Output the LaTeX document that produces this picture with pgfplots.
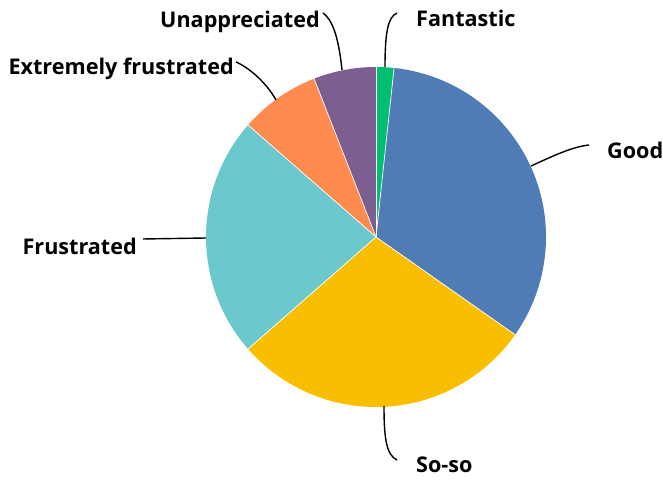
\documentclass[border=0pt]{standalone}
\usepackage{fontspec}
\setmainfont{Open Sans}
\usepackage{pgfplots}
\usepackage{pgfplotstable}
\pgfplotsset{compat=1.18}
\definecolor{c0}{HTML}{00BF6F}
\definecolor{c1}{HTML}{507CB6}
\definecolor{c2}{HTML}{F9BE00}
\definecolor{c3}{HTML}{6BC8CD}
\definecolor{c4}{HTML}{FF8B4F}
\definecolor{c5}{HTML}{7D5E91}
\pgfplotstableread{
label value
Fantastic 2
Good 39
So-so 34
Frustrated 27
{Extremely frustrated} 9
Unappreciated 7
}\datatable
\def\total{118}
\def\cum{0}
\pgfplotstableforeachcolumnelement{value}\of\datatable\as\val{%
  \pgfmathsetmacro\sa{90-\cum/\total*360}%
  \pgfmathsetmacro\newcum{\cum+\val}%
  \pgfmathsetmacro\ea{90-\newcum/\total*360}%
  \expandafter\xdef\csname sa\pgfplotstablerow\endcsname{\sa}%
  \expandafter\xdef\csname ea\pgfplotstablerow\endcsname{\ea}%
  \xdef\cum{\newcum}%
}
\begin{document}
\begin{tikzpicture}
\begin{axis}[
  x=1pt, y=1pt,
  xmin=-376, xmax=287, ymin=-244, ymax=237,
  hide axis, clip=false,
]
\pgfplotsinvokeforeach{0,...,5}{
  \fill[c#1] (axis cs:0,0) -- (axis cs:{170*cos(\csname sa#1\endcsname)},{170*sin(\csname sa#1\endcsname)})
     arc[start angle=\csname sa#1\endcsname, end angle=\csname ea#1\endcsname, radius=170pt] -- cycle;
}
\pgfplotsinvokeforeach{0,...,5}{
  \draw[white, line width=0.7pt] (axis cs:0,0) -- (axis cs:{170*cos(\csname sa#1\endcsname)},{170*sin(\csname sa#1\endcsname)});
}
\begin{scope}[black, line width=1.4pt]
\draw (axis cs:9,170) .. controls (axis cs:9,205) and (axis cs:12,220) .. (axis cs:21,224);
\draw (axis cs:-53,224) .. controls (axis cs:-45,218) and (axis cs:-38,205) .. (axis cs:-34,167);
\draw (axis cs:-140,175) .. controls (axis cs:-128,170) and (axis cs:-110,155) .. (axis cs:-100,137);
\draw (axis cs:-233,-2) -- (axis cs:-170,-1);
\draw (axis cs:8,-169) .. controls (axis cs:8,-200) and (axis cs:10,-218) .. (axis cs:21,-223);
\draw (axis cs:155,71) .. controls (axis cs:175,80) and (axis cs:195,90) .. (axis cs:213,92);
\end{scope}
\begin{scope}[every node/.style={font=\fontsize{21.6}{25}\selectfont\bfseries, inner sep=0pt}]
\node[anchor=base west] at (axis cs:40,210) {Fantastic};
\node[anchor=base east] at (axis cs:-56,209) {Unappreciated};
\node[anchor=base east] at (axis cs:-142,162) {Extremely frustrated};
\node[anchor=base east] at (axis cs:-239,-18) {Frustrated};
\node[anchor=base west] at (axis cs:40,-236) {So-so};
\node[anchor=base west] at (axis cs:231,78) {Good};
\end{scope}
\end{axis}
\pgfresetboundingbox
\path (current axis.south west) rectangle (current axis.north east);
\end{tikzpicture}
\end{document}
